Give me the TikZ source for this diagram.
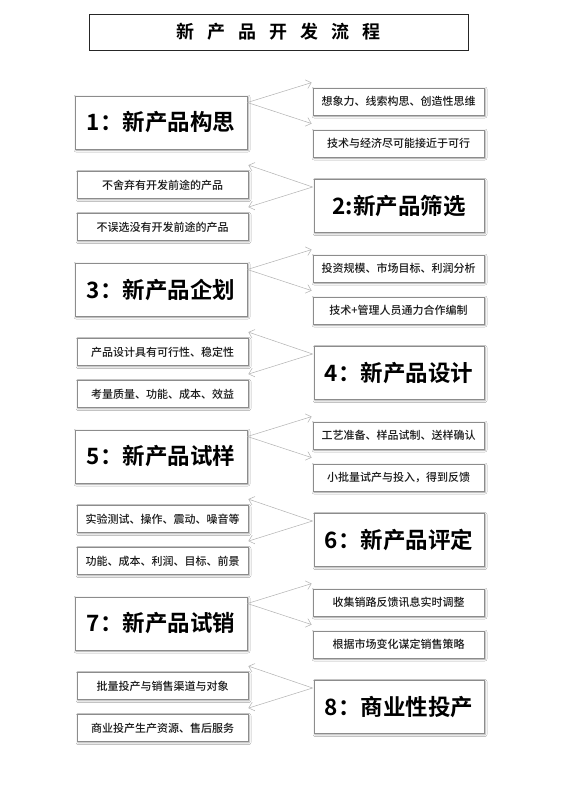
\documentclass[tikz,border=0pt]{standalone}
\usepackage{fontspec}
\setmainfont{Noto Sans CJK SC}[BoldFont={Noto Sans CJK SC Bold}]
\newfontfamily\sidefont{Noto Sans CJK SC Medium}
\usetikzlibrary{arrows.meta,shadows.blur,calc}
\tikzset{
  mainbox/.style={draw=black!45, line width=0.8pt, fill=white, minimum width=172pt, minimum height=53pt, inner sep=0pt,
    blur shadow={shadow xshift=1pt, shadow yshift=-1pt, shadow blur steps=4, shadow blur radius=2pt, shadow opacity=40},
    font=\bfseries\fontsize{22.5pt}{24pt}\selectfont, text=black},
  sidebox/.style={draw=black!45, line width=0.8pt, fill=white, minimum width=171pt, minimum height=27pt, inner sep=0pt,
    blur shadow={shadow xshift=1pt, shadow yshift=-1pt, shadow blur steps=4, shadow blur radius=2pt, shadow opacity=40},
    font=\sidefont\fontsize{11pt}{13pt}\selectfont, text=black!90},
  titlebox/.style={draw=black!85, line width=0.9pt, minimum width=379pt, minimum height=36pt, inner sep=0pt,
    font=\bfseries\fontsize{18pt}{20pt}\selectfont},
  arr/.style={draw=black!30, line width=0.5pt, -{Straight Barb[length=5pt,width=9pt]}}
}
\begin{document}
\begin{tikzpicture}[x=1pt,y=-1pt]
\useasboundingbox[fill=white] (0,0) rectangle (560,792);
\node[titlebox] (title) at (278.5,32) {新\hspace{13pt}产\hspace{13pt}品\hspace{13pt}开\hspace{13pt}发\hspace{13pt}流\hspace{13pt}程};

% step 1
\node[mainbox] (m1) at (161,122.5) {1：新产品构思};
\node[sidebox] (a1) at (398.5,101.5) {想象力、线索构思、创造性思维};
\node[sidebox] (b1) at (398.5,143.5) {技术与经济尽可能接近于可行};
% step 2
\node[mainbox,minimum width=170pt] (m2) at (399,206) {2:新产品筛选};
\node[sidebox] (a2) at (162.5,185) {不舍弃有开发前途的产品};
\node[sidebox] (b2) at (162.5,227) {不误选没有开发前途的产品};
% step 3
\node[mainbox] (m3) at (161,289.5) {3：新产品企划};
\node[sidebox] (a3) at (398.5,268.5) {投资规模、市场目标、利润分析};
\node[sidebox] (b3) at (398.5,310.5) {技术+管理人员通力合作编制};
% step 4
\node[mainbox,minimum width=170pt] (m4) at (399,373) {4：新产品设计};
\node[sidebox] (a4) at (162.5,352) {产品设计具有可行性、稳定性};
\node[sidebox] (b4) at (162.5,394) {考量质量、功能、成本、效益};
% step 5
\node[mainbox] (m5) at (161,456.5) {5：新产品试样};
\node[sidebox] (a5) at (398.5,435.5) {工艺准备、样品试制、送样确认};
\node[sidebox] (b5) at (398.5,477.5) {小批量试产与投入，得到反馈};
% step 6
\node[mainbox,minimum width=170pt] (m6) at (399,540) {6：新产品评定};
\node[sidebox] (a6) at (162.5,519) {实验测试、操作、震动、噪音等};
\node[sidebox] (b6) at (162.5,561) {功能、成本、利润、目标、前景};
% step 7
\node[mainbox] (m7) at (161,623.5) {7：新产品试销};
\node[sidebox] (a7) at (398.5,602.5) {收集销路反馈讯息实时调整};
\node[sidebox] (b7) at (398.5,644.5) {根据市场变化谋定销售策略};
% step 8
\node[mainbox,minimum width=170pt] (m8) at (399,707) {8：商业性投产};
\node[sidebox] (a8) at (162.5,686) {批量投产与销售渠道与对象};
\node[sidebox] (b8) at (162.5,728) {商业投产生产资源、售后服务};

% arrows
\foreach \m/\a/\b in {m1/a1/b1, m3/a3/b3, m5/a5/b5, m7/a7/b7}{
  \draw[arr] ([yshift=20pt]\m.east) -- ([xshift=-1pt,yshift=5pt]\a.north west);
  \draw[arr] ([yshift=20pt]\m.east) -- ([xshift=-1pt,yshift=6pt]\b.north west);
}
\foreach \m/\a/\b in {m2/a2/b2, m4/a4/b4, m6/a6/b6, m8/a8/b8}{
  \draw[arr] ([xshift=-1pt,yshift=19pt]\m.west) -- ([yshift=6pt]\a.north east);
  \draw[arr] ([xshift=-1pt,yshift=19pt]\m.west) -- ([yshift=6pt]\b.north east);
}
\end{tikzpicture}
\end{document}
